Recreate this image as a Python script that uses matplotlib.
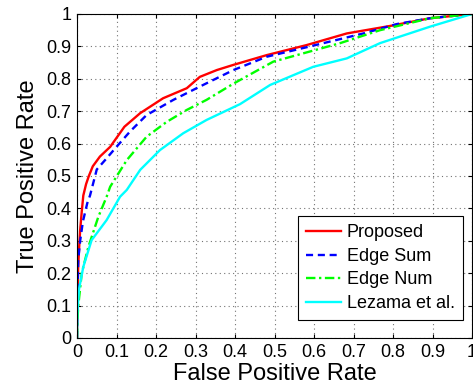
"""ROC curves: proposed method vs edge baselines and Lezama et al."""

import matplotlib

matplotlib.use("Agg")
import matplotlib.pyplot as plt

plt.rcParams["font.family"] = ["Liberation Sans", "DejaVu Sans"]

# ROC points (FPR, TPR)
proposed_fpr = [0.0, 0.001, 0.003, 0.005, 0.008, 0.012, 0.016, 0.023, 0.03, 0.04, 0.058,
                0.084, 0.12, 0.16, 0.218, 0.278, 0.311, 0.354, 0.396, 0.48, 0.581,
                0.683, 0.792, 0.894, 1.0]
proposed_tpr = [0.0, 0.12, 0.22, 0.27, 0.333, 0.39, 0.44, 0.475, 0.5, 0.53, 0.56,
                0.59, 0.652, 0.694, 0.74, 0.771, 0.806, 0.827, 0.843, 0.873, 0.904,
                0.94, 0.963, 0.987, 1.0]

edgesum_fpr = [0.0, 0.001, 0.003, 0.008, 0.015, 0.026, 0.033, 0.05, 0.071, 0.1, 0.134,
               0.176, 0.244, 0.311, 0.396, 0.48, 0.59, 0.725, 0.81, 0.894, 1.0]
edgesum_tpr = [0.0, 0.1, 0.24, 0.30, 0.36, 0.416, 0.44, 0.52, 0.549, 0.59, 0.637,
               0.688, 0.735, 0.776, 0.827, 0.868, 0.9, 0.94, 0.969, 0.987, 1.0]

edgenum_fpr = [0.0, 0.001, 0.003, 0.012, 0.029, 0.054, 0.075, 0.084, 0.126, 0.176, 0.227,
               0.278, 0.328, 0.396, 0.497, 0.666, 0.767, 0.894, 1.0]
edgenum_tpr = [0.0, 0.05, 0.097, 0.2, 0.282, 0.374, 0.436, 0.467, 0.549, 0.621, 0.667,
               0.704, 0.735, 0.785, 0.853, 0.91, 0.95, 0.987, 1.0]

lezama_fpr = [0.0, 0.001, 0.005, 0.016, 0.037, 0.075, 0.109, 0.126, 0.16, 0.21, 0.269,
              0.328, 0.413, 0.489, 0.598, 0.683, 0.767, 0.894, 1.0]
lezama_tpr = [0.0, 0.077, 0.15, 0.22, 0.302, 0.364, 0.436, 0.457, 0.519, 0.58, 0.632,
              0.673, 0.722, 0.781, 0.837, 0.863, 0.91, 0.961, 1.0]

ticks = [0, 0.1, 0.2, 0.3, 0.4, 0.5, 0.6, 0.7, 0.8, 0.9, 1]
tick_labels = ["0", "0.1", "0.2", "0.3", "0.4", "0.5", "0.6", "0.7", "0.8", "0.9", "1"]


def main() -> None:
    W, H = 473, 385
    fig = plt.figure(figsize=(W / 100, H / 100), dpi=100)
    ax = fig.add_axes([77 / W, 1 - 338 / H, 395 / W, 324 / H])

    ax.plot(proposed_fpr, proposed_tpr, color="red", lw=1.7, label="Proposed")
    ax.plot(edgesum_fpr, edgesum_tpr, color="blue", lw=1.7, ls=(0, (3, 2)),
            label="Edge Sum")
    ax.plot(edgenum_fpr, edgenum_tpr, color=(0, 1, 0), lw=1.7, ls=(0, (4, 1.5, 1, 1.5)),
            label="Edge Num")
    ax.plot(lezama_fpr, lezama_tpr, color="cyan", lw=1.7, label="Lezama et al.")

    ax.set_xlim(0, 1)
    ax.set_ylim(0, 1)
    ax.set_xticks(ticks)
    ax.set_xticklabels(tick_labels)
    ax.set_yticks(ticks)
    ax.set_yticklabels(tick_labels)
    ax.tick_params(direction="in", top=True, right=True, labelsize=13, length=3,
                   pad=4)
    ax.grid(True, ls=(0, (1, 3)), color="0.45", lw=0.8)
    for s in ax.spines.values():
        s.set_linewidth(0.8)

    ax.set_xlabel("False Positive Rate", fontsize=17, labelpad=2)
    ax.set_ylabel("True Positive Rate", fontsize=17, labelpad=5)

    leg = ax.legend(loc="lower right", bbox_to_anchor=(463 / W, 1 - 320 / H),
                    bbox_transform=fig.transFigure, borderaxespad=0,
                    fontsize=13, fancybox=False, framealpha=1, edgecolor="black",
                    handlelength=1.95, labelspacing=0.36, handletextpad=0.3,
                    borderpad=0.45)
    leg.get_frame().set_linewidth(0.8)

    fig.savefig("out.png", dpi=100)


if __name__ == "__main__":
    main()
